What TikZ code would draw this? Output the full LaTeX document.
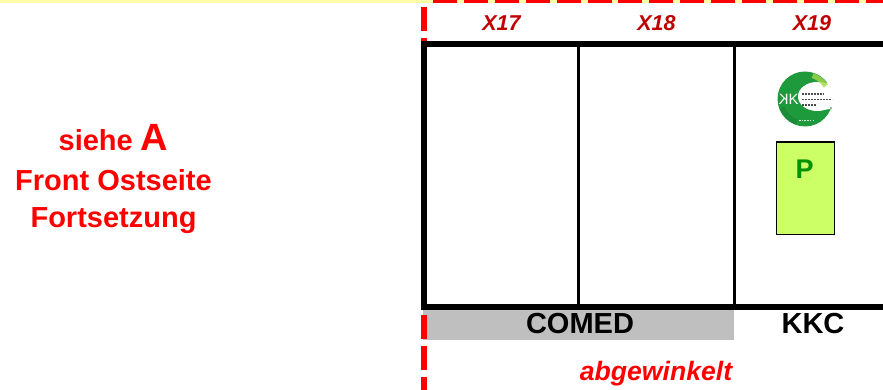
\documentclass[tikz,border=0pt]{standalone}
\usepackage{fontspec}
\setmainfont{Liberation Sans}
\definecolor{logog}{HTML}{1E9A3C}
\definecolor{logol}{HTML}{A5D84A}
\definecolor{logod}{HTML}{14702C}
\definecolor{hdr}{HTML}{C00000}
\definecolor{paley}{HTML}{FFFFA8}
\tikzset{
  frameline/.style={line width=6pt,black},
  innerline/.style={line width=3pt,black},
  reddash/.style={line width=6pt,red,dash pattern=on 24pt off 6.8pt},
  topdash/.style={line width=3.5pt,red,dash pattern=on 24pt off 6.9pt},
  hdrlabel/.style={font=\fontsize{21.5}{24}\selectfont\bfseries\itshape,text=hdr,inner sep=0pt},
  redlabel/.style={font=\fontsize{29}{39}\selectfont\bfseries,text=red,inner sep=0pt,anchor=base},
  owner/.style={font=\fontsize{29}{32}\selectfont\bfseries,inner sep=0pt}
}
\begin{document}
\begin{tikzpicture}[x=1pt,y=-1pt]
\useasboundingbox (0,0) rectangle (883,390);
\fill[white] (0,0) rectangle (883,390);
% pale top line
\fill[paley] (0,0) rectangle (883,2.6);
\coordinate (tl) at (433,1.7);
\coordinate (tr) at (883,1.7);
\draw[topdash] (tl) -- (tr);
% gray band
\node[fill=black!25,minimum width=311pt,minimum height=30pt,inner sep=0pt,anchor=north west] (grayband) at (423,310) {};
% frame
\coordinate (fa) at (424,44);
\coordinate (fb) at (883,44);
\coordinate (fc) at (883,307);
\coordinate (fd) at (424,307);
% red dashed line
\coordinate (ra) at (424,7);
\coordinate (rb) at (424,390);
\draw[reddash] (ra) -- (rb);
\draw[frameline] (fb) -- (fa) -- (fd) -- (fc);
\coordinate (i1a) at (578.5,44);\coordinate (i1b) at (578.5,307);
\coordinate (i2a) at (734.5,44);\coordinate (i2b) at (734.5,307);
\draw[innerline] (i1a) -- (i1b);
\draw[innerline] (i2a) -- (i2b);
% headers
\node[hdrlabel] (x17) at (501.5,23) {X17};
\node[hdrlabel] (x18) at (656.5,23) {X18};
\node[hdrlabel] (x19) at (812,23) {X19};
% left text
\node[redlabel] (note1) at (113.5,151) {siehe {\fontsize{38}{39}\selectfont A}};
\node[redlabel] (note2) at (113.5,190) {Front Ostseite};
\node[redlabel] (note3) at (113.5,227) {Fortsetzung};
% owners
\node[owner] (comed) at (580,323.5) {COMED};
\node[owner] (kkc) at (813,323.5) {KKC};
\node[font=\fontsize{26.6}{28}\selectfont\bfseries\itshape,text=red,inner sep=0pt] (abg) at (656,374) {abgewinkelt};
% logo
\fill[logog] (805,99) circle[radius=27.5];
\fill[white] (817,96.5) ellipse[x radius=19,y radius=14.5];
\fill[white] (817,82) -- (836,84) -- (836,108) -- (817,111) -- cycle;
\draw[logol,line width=5pt,opacity=.8] (805,99) ++(-72:24.5) arc[start angle=-72,end angle=-32,radius=24.5];
\draw[logod,line width=5pt,opacity=.35] (805,99) ++(110:24.5) arc[start angle=110,end angle=160,radius=24.5];
\node[font=\fontsize{15}{15}\selectfont,text=white,inner sep=0pt] (kk) at (788.5,99.5) {\reflectbox{K}K};
\draw[black!70,line width=1.4pt,dash pattern=on 1.8pt off 1.2pt] (802,94) -- (824,94) (802,99.5) -- (832,99.5) (802,105) -- (816,105);
\fill[logod] (831,108) circle[radius=.9];
\draw[white,line width=1pt,dash pattern=on 1.5pt off 1.2pt,opacity=.8] (799,120.5) -- (814,120.5);
% parking box
\node[draw=black,line width=1.6pt,fill={rgb,255:red,204;green,255;blue,102},minimum width=58pt,minimum height=92pt,inner sep=0pt,anchor=north west] (pbox) at (775.5,141.5) {};
\node[font=\fontsize{27}{30}\selectfont\bfseries,text={rgb,255:red,0;green,145;blue,0},inner sep=0pt] (plabel) at (804.5,169) {P};
\end{tikzpicture}
\end{document}
